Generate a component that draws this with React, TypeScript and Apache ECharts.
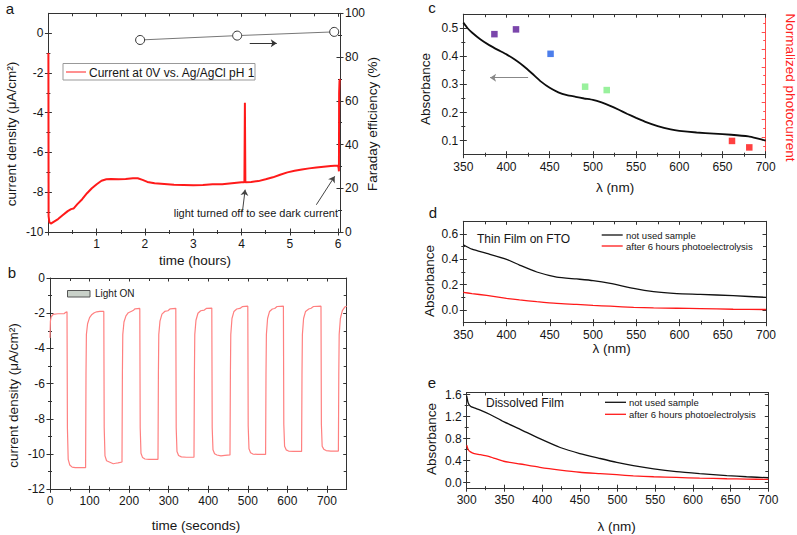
import React, { useEffect, useRef } from 'react';
import * as echarts from 'echarts';

const FONT = '"Liberation Sans", Arial, sans-serif';
const AX = '#333333';
const TXT = '#161616';

// ---------- Panel a: current density vs time (hours) ----------
const aTime = [0, 0.004, 0.02, 0.05, 0.1, 0.2, 0.3, 0.4, 0.47, 0.52, 0.6, 0.7, 0.8, 0.9, 1.0, 1.1, 1.2, 1.3, 1.45, 1.6, 1.75, 1.85, 1.95, 2.05, 2.2, 2.4, 2.6, 2.8, 3.0, 3.2, 3.4, 3.6, 3.8, 4.0, 4.06, 4.07, 4.08, 4.2, 4.35, 4.5, 4.65, 4.8, 4.95, 5.1, 5.25, 5.4, 5.55, 5.7, 5.85, 6.0, 6.012, 6.018, 6.022, 6.03, 6.04];
const aCurrent = [-1.0, -9.2, -9.5, -9.58, -9.5, -9.35, -9.15, -8.95, -8.85, -8.82, -8.6, -8.35, -8.05, -7.8, -7.6, -7.42, -7.35, -7.33, -7.35, -7.33, -7.3, -7.3, -7.38, -7.48, -7.55, -7.58, -7.62, -7.63, -7.65, -7.63, -7.6, -7.6, -7.55, -7.5, -7.5, -3.5, -7.5, -7.48, -7.44, -7.35, -7.25, -7.12, -7.0, -6.92, -6.86, -6.8, -6.76, -6.72, -6.68, -6.66, -6.8, -6.95, -3.0, -2.4, -2.3];
const aFeTime = [1.9, 3.91, 5.92];
const aFe = [87.8, 89.8, 91.5];
const aXLabels = [1, 2, 3, 4, 5, 6];
const aXMajor = [0, 1, 2, 3, 4, 5, 6];
const aXMinor = [0.5, 1.5, 2.5, 3.5, 4.5, 5.5];
const aYMajor = [-10, -8, -6, -4, -2, 0];
const aYMinor = [-9, -7, -5, -3, -1];
const aFeMajor = [0, 20, 40, 60, 80, 100];
const aFeMinor = [10, 30, 50, 70, 90];

// ---------- Panel b: chopped light current vs time (seconds) ----------
const bTime = [
  0, 1, 3, 8, 20, 36, 40, 43,
  44, 46, 50, 56, 64, 90,
  91, 92, 95, 100, 106, 112, 118, 126, 136,
  137, 139, 143, 150, 160, 166, 172, 182,
  183, 184, 187, 192, 198, 205, 210, 215, 227,
  228, 230, 234, 240, 250, 273,
  274, 275, 278, 283, 290, 298, 304, 318,
  319, 321, 325, 332, 345, 364,
  365, 366, 369, 374, 381, 390, 396, 409,
  410, 412, 416, 422, 432, 442, 455,
  456, 457, 460, 465, 472, 480, 486, 500,
  501, 503, 507, 513, 525, 545,
  546, 547, 550, 555, 562, 568, 574, 590,
  591, 593, 597, 603, 615, 636,
  637, 638, 641, 646, 654, 660, 666, 685,
  686, 688, 692, 698, 710, 729,
  730, 731, 734, 739, 745, 750,
];
const bCurrent = [
  -3.4, -2.45, -2.2, -2.07, -2.03, -2.02, -1.95, -1.92,
  -8.5, -10.3, -10.62, -10.74, -10.77, -10.77,
  -5.5, -3.2, -2.6, -2.25, -2.07, -1.97, -1.92, -1.9, -1.9,
  -8.5, -10.1, -10.38, -10.45, -10.55, -10.52, -10.5, -10.45,
  -5.5, -3.2, -2.5, -2.15, -1.97, -1.9, -1.85, -1.75, -1.73,
  -8.5, -9.95, -10.2, -10.28, -10.3, -10.3,
  -5.5, -3.2, -2.45, -2.05, -1.9, -1.86, -1.75, -1.72,
  -8.5, -9.85, -10.08, -10.16, -10.18, -10.18,
  -5.5, -3.2, -2.4, -2.0, -1.86, -1.82, -1.72, -1.71,
  -8.5, -9.75, -9.98, -10.05, -10.1, -10.07, -10.05,
  -5.5, -3.2, -2.3, -1.9, -1.76, -1.73, -1.63, -1.6,
  -8.4, -9.7, -9.92, -10.0, -10.02, -10.02,
  -5.5, -3.2, -2.3, -1.9, -1.76, -1.73, -1.62, -1.6,
  -8.3, -9.55, -9.76, -9.83, -9.85, -9.85,
  -5.5, -3.2, -2.3, -1.9, -1.76, -1.72, -1.62, -1.6,
  -8.3, -9.55, -9.72, -9.8, -9.83, -9.83,
  -5.5, -3.2, -2.3, -1.85, -1.65, -1.6,
];
const bXMajor = [0, 100, 200, 300, 400, 500, 600, 700];
const bXMinor = [50, 150, 250, 350, 450, 550, 650];
const bYMajor = [-12, -10, -8, -6, -4, -2, 0];
const bYMinor = [-11, -9, -7, -5, -3, -1];

// ---------- Panel c: absorbance + normalized photocurrent ----------
const cWl = [350, 355, 360, 370, 380, 390, 400, 410, 420, 430, 440, 450, 460, 470, 480, 490, 500, 510, 520, 530, 540, 550, 560, 575, 590, 600, 620, 640, 660, 680, 690, 700];
const cAbs = [0.52, 0.5, 0.485, 0.46, 0.44, 0.423, 0.407, 0.388, 0.365, 0.338, 0.31, 0.288, 0.272, 0.262, 0.256, 0.25, 0.245, 0.236, 0.224, 0.21, 0.195, 0.181, 0.168, 0.152, 0.14, 0.135, 0.129, 0.125, 0.121, 0.115, 0.108, 0.1];
const cPhotoWl = [386, 411, 451, 491, 516, 661, 681];
const cPhoto = [0.479, 0.496, 0.409, 0.292, 0.28, 0.099, 0.076];
const cPhotoColors = ['#5a1896', '#5a1896', '#1f5ee6', '#80ee84', '#80ee84', '#ff1010', '#ff1010'];
const lamMajor = [350, 400, 450, 500, 550, 600, 650, 700];
const lamMinor = [375, 425, 475, 525, 575, 625, 675];
const cYMajor = [0.1, 0.2, 0.3, 0.4, 0.5];
const cYMinor = [0.15, 0.25, 0.35, 0.45];
const cRMajor = [0.125, 0.25, 0.375, 0.5, 0.625, 0.75, 0.875];
const cRMinor = [0.0625, 0.1875, 0.3125, 0.4375, 0.5625, 0.6875, 0.8125, 0.9375];

// ---------- Panel d: thin film on FTO ----------
const dWl = [350, 360, 377, 400, 415, 435, 458, 481, 500, 520, 547, 570, 597, 624, 662, 700];
const dUnused = [0.515, 0.48, 0.447, 0.4, 0.355, 0.3, 0.26, 0.245, 0.232, 0.21, 0.17, 0.145, 0.13, 0.124, 0.113, 0.1];
const dUsed = [0.139, 0.13, 0.115, 0.092, 0.08, 0.066, 0.052, 0.044, 0.036, 0.03, 0.021, 0.017, 0.014, 0.011, 0.006, 0.004];
const dYMajor = [0, 0.2, 0.4, 0.6];
const dYMinor = [0.1, 0.3, 0.5];

// ---------- Panel e: dissolved film ----------
const eWl = [300, 302, 305, 310, 318, 331, 349, 371, 397, 424, 450, 477, 499, 521, 548, 578, 609, 645, 671, 700];
const eUnused = [1.58, 1.45, 1.39, 1.36, 1.32, 1.24, 1.11, 0.97, 0.8, 0.64, 0.53, 0.44, 0.37, 0.31, 0.25, 0.2, 0.165, 0.13, 0.108, 0.09];
const eUsed = [0.68, 0.6, 0.56, 0.53, 0.51, 0.47, 0.39, 0.34, 0.28, 0.23, 0.19, 0.165, 0.145, 0.125, 0.108, 0.095, 0.083, 0.072, 0.066, 0.06];
const eXMajor = [300, 350, 400, 450, 500, 550, 600, 650, 700];
const eXMinor = [325, 375, 425, 475, 525, 575, 625, 675];
const eYMajor = [0, 0.4, 0.8, 1.2, 1.6];
const eYMinor = [0.2, 0.6, 1.0, 1.4];

const zip = (xs: number[], ys: number[]) => xs.map((x, i) => [x, ys[i]]);
const f1 = (v: number) => v.toFixed(1);

function buildOption() {
  const xAxes: any[] = [];
  const yAxes: any[] = [];

  function addAxes(dim: 'x' | 'y', s: any): number {
    const list = dim === 'x' ? xAxes : yAxes;
    const color = s.color || AX;
    const base = {
      type: 'value', gridIndex: s.grid, position: s.pos, min: s.min, max: s.max,
      splitLine: { show: false }, axisPointer: { show: false },
    };
    const idx = list.length;
    list.push({
      ...base,
      axisLine: { show: true, onZero: false, lineStyle: { color, width: 1 } },
      axisTick: { show: false },
      axisLabel: s.labels
        ? { show: true, customValues: s.labels, formatter: s.fmt || ((v: number) => String(v)), margin: s.margin ?? 5, fontSize: 12, color: TXT, fontFamily: FONT }
        : { show: false },
    });
    const tick = (vals: number[], len: number) => ({
      ...base,
      offset: s.cross ? -len / 2 : 0,
      axisLine: { show: false, onZero: false },
      axisLabel: { show: false },
      axisTick: { show: true, customValues: vals, inside: !s.cross, length: len, lineStyle: { color, width: 1 } },
    });
    list.push(tick(s.majors, s.majLen));
    if (s.minors && s.minors.length) list.push(tick(s.minors, s.minLen));
    return idx;
  }

  const grids = [
    { left: 48.4, top: 13.3, width: 291.6, height: 218.7 },
    { left: 50, top: 278, width: 296.7, height: 211.3 },
    { left: 463.3, top: 14.2, width: 302.4, height: 140.5 },
    { left: 463.3, top: 221.3, width: 302.7, height: 101.4 },
    { left: 466.7, top: 392.5, width: 301.6, height: 95.7 },
  ];

  // Panel a
  const axA = addAxes('x', { grid: 0, pos: 'bottom', min: 0, max: 6.04, majors: aXMajor, minors: aXMinor, labels: aXLabels, cross: true, majLen: 7, minLen: 4, margin: 6 });
  addAxes('x', { grid: 0, pos: 'top', min: 0, max: 6.04, majors: aXMajor, minors: aXMinor, cross: false, majLen: 3.5, minLen: 3 });
  const ayA = addAxes('y', { grid: 0, pos: 'left', min: -10, max: 1, majors: aYMajor, minors: aYMinor, labels: aYMajor, cross: true, majLen: 7, minLen: 4 });
  const ayFe = addAxes('y', { grid: 0, pos: 'right', min: 0, max: 100, majors: aFeMajor, minors: aFeMinor, labels: aFeMajor, cross: true, majLen: 7, minLen: 4 });

  // Panel b
  const axB = addAxes('x', { grid: 1, pos: 'bottom', min: 0, max: 750, majors: bXMajor, minors: bXMinor, labels: bXMajor, cross: true, majLen: 7, minLen: 4, margin: 6 });
  addAxes('x', { grid: 1, pos: 'top', min: 0, max: 750, majors: bXMajor, minors: bXMinor, cross: false, majLen: 3.5, minLen: 3 });
  const ayB = addAxes('y', { grid: 1, pos: 'left', min: -12, max: 0, majors: bYMajor, minors: bYMinor, labels: bYMajor, cross: true, majLen: 7, minLen: 4 });
  addAxes('y', { grid: 1, pos: 'right', min: -12, max: 0, majors: bYMajor, minors: bYMinor, cross: false, majLen: 3.5, minLen: 3 });

  // Panel c
  const axC = addAxes('x', { grid: 2, pos: 'bottom', min: 350, max: 700, majors: lamMajor, minors: lamMinor, labels: lamMajor, cross: true, majLen: 7, minLen: 4, margin: 6 });
  addAxes('x', { grid: 2, pos: 'top', min: 350, max: 700, majors: lamMajor, minors: lamMinor, cross: false, majLen: 3.5, minLen: 3 });
  const ayC = addAxes('y', { grid: 2, pos: 'left', min: 0.05, max: 0.55, majors: cYMajor, minors: cYMinor, labels: cYMajor, fmt: f1, cross: true, majLen: 7, minLen: 4 });
  addAxes('y', { grid: 2, pos: 'right', min: 0, max: 1, majors: cRMajor, minors: cRMinor, cross: false, majLen: 4, minLen: 2.5, color: '#ff4d4d' });

  // Panel d
  const axD = addAxes('x', { grid: 3, pos: 'bottom', min: 350, max: 700, majors: lamMajor, minors: lamMinor, labels: lamMajor, cross: true, majLen: 7, minLen: 4, margin: 6 });
  addAxes('x', { grid: 3, pos: 'top', min: 350, max: 700, majors: lamMajor, minors: lamMinor, cross: false, majLen: 3.5, minLen: 3 });
  const ayD = addAxes('y', { grid: 3, pos: 'left', min: -0.1, max: 0.7, majors: dYMajor, minors: dYMinor, labels: dYMajor, fmt: f1, cross: true, majLen: 7, minLen: 4 });
  addAxes('y', { grid: 3, pos: 'right', min: -0.1, max: 0.7, majors: dYMajor, minors: dYMinor, cross: false, majLen: 3.5, minLen: 3 });

  // Panel e
  const axE = addAxes('x', { grid: 4, pos: 'bottom', min: 300, max: 700, majors: eXMajor, minors: eXMinor, labels: eXMajor, cross: true, majLen: 7, minLen: 4, margin: 6 });
  addAxes('x', { grid: 4, pos: 'top', min: 300, max: 700, majors: eXMajor, minors: eXMinor, cross: false, majLen: 3.5, minLen: 3 });
  const ayE = addAxes('y', { grid: 4, pos: 'left', min: -0.1, max: 1.64, majors: eYMajor, minors: eYMinor, labels: eYMajor, fmt: f1, cross: true, majLen: 7, minLen: 4 });
  addAxes('y', { grid: 4, pos: 'right', min: -0.1, max: 1.64, majors: eYMajor, minors: eYMinor, cross: false, majLen: 3.5, minLen: 3 });

  const arrow = (pairs: number[][][], color: string) => ({
    silent: true,
    symbol: ['none', 'arrow'],
    symbolSize: 6,
    label: { show: false },
    emphasis: { disabled: true },
    lineStyle: { type: 'solid', color, width: 1 },
    data: pairs.map((p) => [{ coord: p[0] }, { coord: p[1] }]),
  });

  const series: any[] = [
    {
      type: 'line', name: 'Current at 0V vs. Ag/AgCl pH 1', xAxisIndex: axA, yAxisIndex: ayA,
      data: zip(aTime, aCurrent), showSymbol: false, symbol: 'none',
      lineStyle: { color: '#ff1a1a', width: 2 },
      markLine: arrow([[[4.02, -8.96], [4.075, -7.87]], [[5.55, -8.63], [5.93, -7.2]]], '#444'),
    },
    {
      type: 'line', name: 'FE', xAxisIndex: axA, yAxisIndex: ayFe,
      data: zip(aFeTime, aFe), symbol: 'circle', symbolSize: 9,
      itemStyle: { color: '#ffffff', borderColor: '#333', borderWidth: 1 },
      lineStyle: { color: '#777', width: 1 },
      markLine: arrow([[[4.17, 86.3], [4.73, 86.3]]], '#333'),
    },
    {
      type: 'line', name: 'chopped', xAxisIndex: axB, yAxisIndex: ayB,
      data: zip(bTime, bCurrent), symbol: 'none', lineStyle: { color: '#ff8080', width: 1.2 },
    },
    {
      type: 'line', name: 'absorbance c', xAxisIndex: axC, yAxisIndex: ayC,
      data: zip(cWl, cAbs), symbol: 'none', smooth: 0.15, lineStyle: { color: '#0d0d0d', width: 1.8 },
      markLine: arrow([[[425, 0.324], [381, 0.324]]], '#888'),
    },
    {
      type: 'scatter', name: 'photocurrent', xAxisIndex: axC, yAxisIndex: ayC, symbol: 'rect', symbolSize: 6.5,
      data: cPhotoWl.map((w, i) => ({ value: [w, cPhoto[i]], itemStyle: { color: cPhotoColors[i] } })),
    },
    {
      type: 'line', name: 'not used d', xAxisIndex: axD, yAxisIndex: ayD,
      data: zip(dWl, dUnused), symbol: 'none', smooth: 0.2, lineStyle: { color: '#111', width: 1.3 },
    },
    {
      type: 'line', name: 'used d', xAxisIndex: axD, yAxisIndex: ayD,
      data: zip(dWl, dUsed), symbol: 'none', smooth: 0.2, lineStyle: { color: '#ff1a1a', width: 1.3 },
    },
    {
      type: 'line', name: 'not used e', xAxisIndex: axE, yAxisIndex: ayE,
      data: zip(eWl, eUnused), symbol: 'none', smooth: 0.2, lineStyle: { color: '#111', width: 1.3 },
    },
    {
      type: 'line', name: 'used e', xAxisIndex: axE, yAxisIndex: ayE,
      data: zip(eWl, eUsed), symbol: 'none', smooth: 0.2, lineStyle: { color: '#ff1a1a', width: 1.3 },
    },
  ];

  const txt = (text: string, x: number, y: number, size: number, extra: any = {}) => ({
    type: 'text', x, y, rotation: extra.rotation || 0, silent: true,
    style: {
      text, fontSize: size, fontFamily: FONT, fill: extra.fill || TXT,
      align: extra.align || 'center', verticalAlign: 'middle',
    },
  });
  const seg = (x1: number, y1: number, x2: number, y2: number, stroke: string, w: number) => ({
    type: 'line', silent: true, shape: { x1, y1, x2, y2 }, style: { stroke, lineWidth: w },
  });

  const graphic: any[] = [
    // panel letters
    txt('a', 10, 8, 15), txt('b', 12, 272, 15), txt('c', 432, 7, 15), txt('d', 433, 212, 15), txt('e', 432, 382, 15),
    // panel a titles
    txt('time (hours)', 195, 260, 13.5),
    txt('current density (μA/cm²)', 11.5, 134, 13.5, { rotation: Math.PI / 2 }),
    txt('Faraday efficiency (%)', 372.5, 124, 13.5, { rotation: Math.PI / 2 }),
    // panel a legend
    { type: 'rect', silent: true, shape: { x: 63, y: 63.5, width: 192, height: 16.5 }, style: { fill: '#fff', stroke: '#999', lineWidth: 1 } },
    seg(66, 72, 86, 72, '#ff9090', 2),
    txt('Current at 0V vs. Ag/AgCl pH 1', 89, 72.5, 12, { align: 'left' }),
    txt('light turned off to see dark current', 338, 213, 11, { align: 'right' }),
    // panel b
    txt('time (seconds)', 196, 525, 13.5),
    txt('current density (μA/cm²)', 13, 395.5, 13.5, { rotation: Math.PI / 2 }),
    { type: 'rect', silent: true, shape: { x: 67.5, y: 290.5, width: 22.5, height: 6.5 }, style: { fill: '#c9d1c9', stroke: '#555', lineWidth: 1 } },
    txt('Light ON', 95, 293.5, 10, { align: 'left' }),
    // panel c
    txt('λ (nm)', 615, 187.5, 13.5),
    txt('Absorbance', 425, 89, 13.5, { rotation: Math.PI / 2 }),
    txt('Normalized photocurrent', 790, 87.5, 13.5, { rotation: -Math.PI / 2, fill: '#ff2020' }),
    // panel d
    txt('λ (nm)', 611.7, 348.3, 13.5),
    txt('Absorbance', 429, 281, 13.5, { rotation: Math.PI / 2 }),
    txt('Thin Film on FTO', 477, 239, 12, { align: 'left' }),
    seg(601.7, 235, 622.7, 235, '#111', 1.3),
    txt('not used sample', 626, 235, 9.5, { align: 'left' }),
    seg(601.7, 246, 622.7, 246, '#ff1a1a', 1.3),
    txt('after 6 hours photoelectrolysis', 626, 246, 9.5, { align: 'left' }),
    // panel e
    txt('λ (nm)', 616.7, 526, 13.5),
    txt('Absorbance', 431.7, 439, 13.5, { rotation: Math.PI / 2 }),
    txt('Dissolved Film', 486, 403, 12, { align: 'left' }),
    seg(605, 402.3, 626, 402.3, '#111', 1.3),
    txt('not used sample', 629, 402.3, 9.5, { align: 'left' }),
    seg(605, 414.3, 626, 414.3, '#ff1a1a', 1.3),
    txt('after 6 hours photoelectrolysis', 629, 414.3, 9.5, { align: 'left' }),
  ];

  return {
    animation: false,
    backgroundColor: '#ffffff',
    textStyle: { fontFamily: FONT },
    grid: grids,
    xAxis: xAxes,
    yAxis: yAxes,
    series,
    graphic,
  };
}

export default function App() {
  const ref = useRef<HTMLDivElement>(null);
  useEffect(() => {
    if (!ref.current) return;
    const chart = echarts.init(ref.current, null, { renderer: 'svg' });
    chart.setOption(buildOption() as any);
    return () => chart.dispose();
  }, []);
  return (
    <div
      ref={ref}
      style={{ position: 'fixed', left: 0, top: 0, width: 797, height: 535, background: '#fff' }}
    />
  );
}
